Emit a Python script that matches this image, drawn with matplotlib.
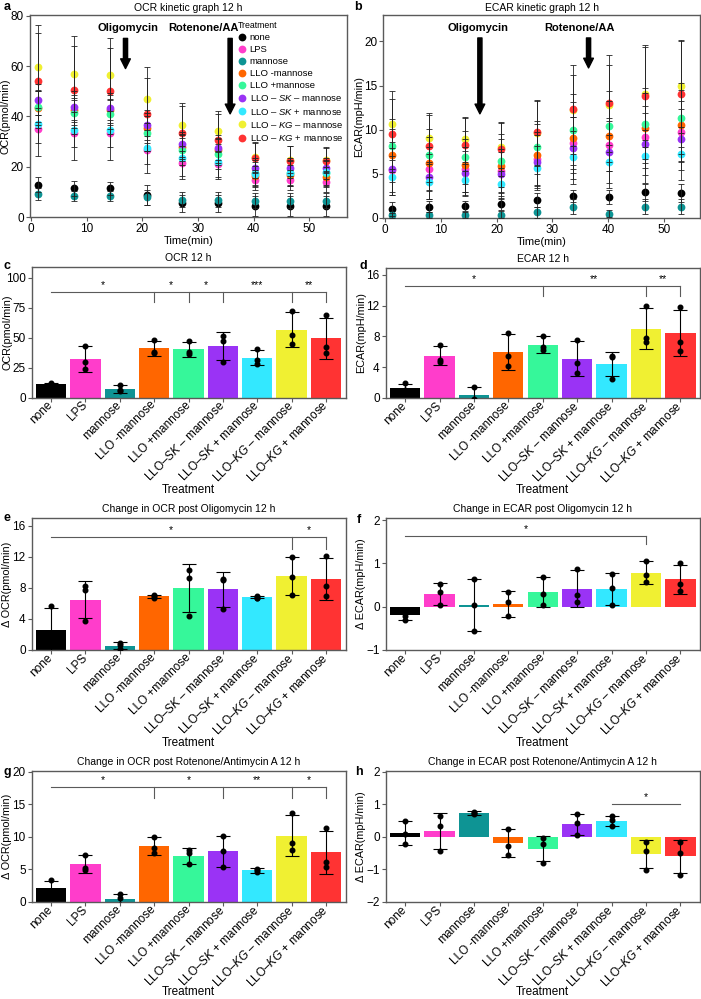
"""
Seahorse OCR / ECAR panels (a-h), 12 h treatment.
"""

import numpy as np
import matplotlib
import matplotlib.pyplot as plt
from matplotlib.lines import Line2D
from matplotlib.transforms import ScaledTranslation

plt.rcParams["font.family"] = ["Liberation Sans", "DejaVu Sans"]
plt.rcParams["mathtext.fontset"] = "custom"
plt.rcParams["mathtext.rm"] = "Liberation Sans"
plt.rcParams["mathtext.it"] = "Liberation Sans:italic"

# -- Data ----------------------------------------------------------------------
LEGEND_LABELS = ["none", "LPS", "mannose", "LLO -mannose", "LLO +mannose",
                 r"LLO – $\mathit{SK}$ – mannose", r"LLO – $\mathit{SK}$ + mannose",
                 r"LLO – $\mathit{KG}$ – mannose", r"LLO – $\mathit{KG}$ + mannose"]
TICK_LABELS = ["none", "LPS", "mannose", "LLO -mannose", "LLO +mannose",
               r"LLO–$\mathit{SK}$ – mannose", r"LLO–$\mathit{SK}$ + mannose",
               r"LLO–$\mathit{KG}$ – mannose", r"LLO–$\mathit{KG}$ + mannose"]
COLORS = ["#000000", "#FF3DCB", "#0E9494", "#FF6600", "#36F79A",
          "#9A33F5", "#33E8FF", "#F0F032", "#FF3333"]

TIME = [1.3, 7.8, 14.3, 20.8, 27.2, 33.7, 40.2, 46.6, 53.1]

# rows follow the treatment order above
OCR_KIN = [
    [12.8, 11.4, 11.4, 8.8, 5.4, 5.4, 4.5, 4.3, 4.4],
    [34.9, 33.2, 33.2, 26.6, 21.3, 20.9, 14.7, 14.7, 14.1],
    [9.1, 8.2, 8.2, 7.9, 6.8, 6.8, 6.5, 6.5, 6.5],
    [43.4, 42.4, 42.4, 35.5, 27.9, 26.5, 16.3, 16.7, 16.0],
    [43.9, 41.3, 41.0, 33.2, 26.6, 25.0, 17.6, 17.4, 17.4],
    [46.7, 43.9, 43.4, 36.5, 28.9, 27.6, 19.6, 19.6, 19.3],
    [37.1, 34.5, 34.7, 27.5, 23.3, 22.0, 17.0, 17.5, 17.8],
    [59.7, 56.8, 56.6, 47.0, 36.7, 34.1, 23.8, 22.8, 22.8],
    [54.2, 50.5, 50.0, 40.8, 33.2, 30.8, 23.3, 22.4, 22.4],
]
OCR_KIN_SD = [
    [3, 3, 2.5, 4, 3.5, 3.5, 4, 4, 4],
    [5.5, 5.5, 5.5, 5.5, 5, 5, 4, 4, 4],
    [2.5, 2, 2, 3, 3, 3, 3, 3, 3],
    [7, 6, 6, 6, 5, 5, 4, 4, 4],
    [6, 6, 6, 7, 6, 6, 5, 5, 5],
    [6, 6, 6, 6, 5, 5, 4, 4, 4],
    [13, 12, 12, 10, 8, 7, 5, 5, 5],
    [16.5, 15, 14.5, 12.5, 8.5, 8, 6, 5.5, 5],
    [19, 17.5, 17, 14.5, 11, 10, 6, 6, 5],
]
ECAR_KIN = [
    [1.0, 1.3, 1.35, 1.6, 2.0, 2.5, 2.4, 2.9, 2.8],
    [5.4, 5.6, 5.5, 5.3, 6.7, 8.5, 8.3, 9.2, 9.8],
    [0.3, 0.35, 0.35, 0.35, 0.65, 1.3, 0.5, 1.3, 1.3],
    [7.1, 6.2, 6.0, 5.9, 7.1, 9.1, 9.3, 10.2, 10.5],
    [8.2, 7.1, 6.9, 6.5, 8.0, 10.0, 10.4, 10.7, 11.3],
    [5.6, 4.7, 5.1, 5.0, 6.4, 7.9, 7.5, 8.4, 8.9],
    [4.6, 4.1, 4.3, 3.9, 5.7, 6.9, 6.4, 7.0, 7.3],
    [10.7, 9.1, 8.9, 8.1, 9.6, 12.2, 12.8, 14.1, 14.9],
    [9.5, 8.2, 8.3, 7.8, 9.7, 12.3, 13.0, 13.8, 14.1],
]
ECAR_KIN_SD = [
    [0.8, 0.6, 0.6, 0.7, 0.8, 0.7, 0.8, 1.0, 1.0],
    [2.5, 2.5, 2.5, 2.5, 3, 3, 3, 3.5, 3.5],
    [0.3, 0.3, 0.3, 0.4, 0.6, 0.8, 0.4, 0.8, 0.8],
    [3, 3, 3, 3, 3.5, 4, 4, 4, 4],
    [3, 3, 3, 3, 3, 4, 4, 4, 4],
    [3, 2.5, 2.5, 2.5, 3, 3.5, 3.5, 3.5, 3.5],
    [2, 2, 1.8, 1.8, 2.5, 3, 3, 3, 3],
    [3.7, 2.8, 2.5, 2.8, 3.7, 4, 4.5, 5.3, 5.3],
    [4, 3.5, 3, 3, 3.7, 5, 5.5, 5.8, 6],
]

# bar panels: mean, sd, three replicate dots
OCR_MEAN = [11.0, 32.2, 7.3, 41.0, 40.4, 42.8, 33.2, 56.5, 49.5]
OCR_SD = [1.5, 10.5, 3.2, 6.5, 6.2, 11.6, 6.4, 14.7, 17.2]
OCR_DOTS = [[12.5, 10.5, 10.0], [43, 29.5, 24], [10.4, 5.6, 6.0], [48.2, 37.2, 37.6],
            [46.8, 38.4, 36.0], [51.5, 47.2, 29.6], [40.2, 31.6, 27.8], [72.5, 52, 45],
            [69, 42, 37.5]]

ECAR_MEAN = [1.25, 5.5, 0.35, 6.0, 6.95, 5.1, 4.4, 9.0, 8.4]
ECAR_SD = [0.6, 1.25, 1.05, 2.3, 1.05, 2.25, 1.6, 2.65, 3.0]
ECAR_DOTS = [[1.9, 1.0, 0.85], [6.9, 5.0, 4.7], [1.45, -0.1, -0.3], [8.5, 5.5, 4.1],
             [8.0, 6.6, 6.3], [7.5, 4.5, 3.3], [5.4, 5.3, 2.5], [11.9, 7.8, 7.3],
             [11.8, 7.3, 6.1]]

DOCR_OLI_MEAN = [2.6, 6.5, 0.55, 6.9, 8.0, 7.8, 6.8, 9.5, 9.1]
DOCR_OLI_SD = [2.8, 2.4, 0.45, 0.2, 3.1, 2.3, 0.15, 2.45, 2.7]
DOCR_OLI_DOTS = [[5.7, 1.2, 0.9], [8.2, 7.7, 3.7], [0.86, 0.65, 0.15], [7.1, 6.9, 6.75],
                 [10.3, 9.25, 4.4], [9.2, 9.0, 5.3], [6.9, 6.75, 6.7], [12.0, 9.45, 7.1],
                 [12.1, 8.25, 6.9]]

DECAR_OLI_MEAN = [-0.2, 0.3, 0.05, 0.07, 0.34, 0.42, 0.41, 0.79, 0.63]
DECAR_OLI_SD = [0.1, 0.25, 0.6, 0.3, 0.35, 0.43, 0.36, 0.27, 0.34]
DECAR_OLI_DOTS = [[-0.1, -0.22, -0.3], [0.53, 0.34, 0.03], [0.65, 0.05, -0.55],
                  [0.34, 0.1, -0.22], [0.69, 0.3, 0.03], [0.88, 0.28, 0.1],
                  [0.76, 0.44, 0.05], [1.06, 0.73, 0.56], [1.0, 0.52, 0.36]]

DOCR_ROT_MEAN = [2.15, 5.8, 0.5, 8.6, 7.1, 7.75, 4.85, 10.2, 7.6]
DOCR_ROT_SD = [1.1, 1.4, 0.75, 1.4, 1.2, 2.35, 0.35, 3.1, 3.3]
DOCR_ROT_DOTS = [[3.4, 1.6, 1.5], [7.24, 5.25, 4.95], [1.28, 0.6, -0.4], [10.05, 8.3, 7.55],
                 [8.0, 7.5, 5.9], [10.1, 7.8, 5.36], [5.0, 4.85, 4.6], [13.6, 9.0, 8.0],
                 [11.4, 6.1, 5.36]]

DECAR_ROT_MEAN = [0.12, 0.18, 0.73, -0.19, -0.36, 0.39, 0.49, -0.53, -0.6]
DECAR_ROT_SD = [0.38, 0.56, 0.05, 0.42, 0.39, 0.32, 0.16, 0.44, 0.5]
DECAR_ROT_DOTS = [[0.5, 0.08, -0.21], [0.64, 0.32, -0.42], [0.76, 0.73, 0.71],
                  [0.25, -0.27, -0.55], [-0.05, -0.23, -0.8], [0.69, 0.43, 0.05],
                  [0.64, 0.51, 0.33], [-0.16, -0.42, -1.01], [-0.16, -0.49, -1.16]]

# significance brackets: (line level, tick bottom, anchor groups, ticked groups, stars)
SIG_C = (88, 79.4, [0, 3, 4, 5, 7, 8], [3, 4, 5, 7, 8], ["*", "*", "*", "***", "**"])
SIG_D = (14.6, 13.2, [0, 4, 7, 8], [4, 7, 8], ["*", "**", "**"])
SIG_E = (14.5, 13.0, [0, 7, 8], [7, 8], ["*", "*"])
SIG_F = (1.63, 1.44, [0, 7], [7], ["*"])
SIG_G = (17.6, 16.0, [0, 3, 5, 7, 8], [3, 5, 7, 8], ["*", "*", "**", "*"])
SIG_H = (1.0, 1.0, [6, 8], [], ["*"])

# -- Figure ----------------------------------------------------------------------
W, H = 701, 999
fig = plt.figure(figsize=(W / 100, H / 100), dpi=100)
FRAME = "#5a5a5a"


def add_ax(x0, x1, top, bottom):
    return fig.add_axes([x0 / W, 1 - bottom / H, (x1 - x0) / W, (bottom - top) / H])


def style(ax, ylabel):
    for s in ax.spines.values():
        s.set_color(FRAME)
        s.set_linewidth(1.0)
    ax.tick_params(direction="out", length=3, width=0.8, color=FRAME,
                   labelsize=8.5, pad=1.2)
    ax.set_ylabel(ylabel, fontsize=7.8)
    ax.yaxis.set_label_coords(-0.061, 0.5)


def kinetic(ax, means, sds):
    for i in range(9):
        ax.plot(TIME, means[i], "o", color=COLORS[i], ms=5.6, mec="none", zorder=2)
    for i in range(9):
        ax.errorbar(TIME, means[i], yerr=sds[i], fmt="none", ecolor="#222222",
                    elinewidth=0.6, capsize=2, capthick=0.6, zorder=3)
    ax.set_xticks([0, 10, 20, 30, 40, 50])
    ax.set_xlabel("Time(min)", fontsize=8, labelpad=1)


def arrow(ax, x, y0, y1):
    ax.annotate("", xy=(x, y1), xytext=(x, y0),
                arrowprops=dict(arrowstyle="simple,head_length=0.7,head_width=0.7,tail_width=0.3",
                                fc="black", ec="black", shrinkA=0, shrinkB=0))


def bars(ax, means, sds, dots, sig, title, label_y):
    x = np.arange(9)
    ax.bar(x, means, width=0.88, color=COLORS, zorder=1)
    ax.errorbar(x, means, yerr=sds, fmt="none", ecolor="black", elinewidth=0.8,
                capsize=5, capthick=0.8, zorder=3)
    for i in range(9):
        ax.plot([i] * 3, dots[i], "o", color="black", ms=3.3, zorder=4)
    ax.set_xlim(-0.57, 8.57)
    ax.set_xticks(x)
    ax.set_xticklabels(TICK_LABELS, rotation=45, ha="right", va="center",
                       rotation_mode="anchor", fontsize=7.4)
    shift = ScaledTranslation(8 / 100, 0, fig.dpi_scale_trans)
    for lbl in ax.get_xticklabels():
        lbl.set_transform(lbl.get_transform() + shift)
    ax.set_xlabel("Treatment", fontsize=8.5)
    ax.xaxis.set_label_coords(0.5, label_y)
    ax.set_title(title, fontsize=7.5, pad=4)
    level, tick_bot, anchors, ticked, stars = sig
    ax.plot([anchors[0], anchors[-1]], [level, level], color=FRAME, lw=0.8)
    for g in ticked:
        ax.plot([g, g], [level, tick_bot], color=FRAME, lw=0.8)
    for k, s in enumerate(stars):
        ax.annotate(s, ((anchors[k] + anchors[k + 1]) / 2, level), xytext=(0, 1.5),
                    textcoords="offset points", ha="center", va="bottom", fontsize=7.5)


# a
ax = add_ax(29.5, 347, 15, 217)
kinetic(ax, OCR_KIN, OCR_KIN_SD)
style(ax, "OCR(pmol/min)")
ax.set_xlim(-0.25, 56.8)
ax.set_ylim(0, 80.3)
ax.set_yticks([0, 20, 40, 60, 80])
ax.set_title("OCR kinetic graph 12 h", fontsize=7.5, pad=3)
ax.text(17.5, 75, "Oligomycin", fontsize=8, fontweight="bold", ha="center", va="center")
ax.text(31.0, 75, "Rotenone/AA", fontsize=8, fontweight="bold", ha="center", va="center")
arrow(ax, 17.0, 71, 59)
arrow(ax, 35.8, 71, 41)
handles = [Line2D([], [], marker="o", ls="none", color=c, mec="none", ms=5.6) for c in COLORS]
leg = ax.legend(handles, LEGEND_LABELS, title="Treatment", loc="upper right",
                bbox_to_anchor=(1.0, 0.99), frameon=False, fontsize=6.8,
                title_fontsize=6.3, handletextpad=0.25, labelspacing=0.33,
                borderaxespad=0.2, handlelength=1.0, borderpad=0.2)
leg._legend_box.align = "left"

# b
ax = add_ax(383.5, 700, 15, 218)
kinetic(ax, ECAR_KIN, ECAR_KIN_SD)
style(ax, "ECAR(mpH/min)")
ax.set_xlim(-0.3, 56.5)
ax.set_ylim(0, 23)
ax.set_yticks([0, 5, 10, 15, 20])
ax.set_title("ECAR kinetic graph 12 h", fontsize=7.5, pad=3)
ax.text(16.6, 21.5, "Oligomycin", fontsize=8, fontweight="bold", ha="center", va="center")
ax.text(34.8, 21.5, "Rotenone/AA", fontsize=8, fontweight="bold", ha="center", va="center")
arrow(ax, 17.0, 20.4, 11.8)
arrow(ax, 36.5, 20.4, 17.0)

# c
ax = add_ax(31.5, 345.5, 267, 397.5)
bars(ax, OCR_MEAN, OCR_SD, OCR_DOTS, SIG_C, "OCR 12 h", -0.66)
style(ax, "OCR(pmol/min)")
ax.set_ylim(0, 109)
ax.set_yticks([0, 25, 50, 75, 100])

# d
ax = add_ax(385.5, 700, 268, 398)
bars(ax, ECAR_MEAN, ECAR_SD, ECAR_DOTS, SIG_D, "ECAR 12 h", -0.66)
style(ax, "ECAR(mpH/min)")
ax.set_ylim(0, 16.9)
ax.set_yticks([0, 4, 8, 12, 16])

# e
ax = add_ax(31.5, 345.5, 518, 650)
bars(ax, DOCR_OLI_MEAN, DOCR_OLI_SD, DOCR_OLI_DOTS, SIG_E,
     "Change in OCR post Oligomycin 12 h", -0.66)
style(ax, "Δ OCR(pmol/min)")
ax.set_ylim(0, 17)
ax.set_yticks([0, 4, 8, 12, 16])

# f
ax = add_ax(385.5, 700, 518, 650)
bars(ax, DECAR_OLI_MEAN, DECAR_OLI_SD, DECAR_OLI_DOTS, SIG_F,
     "Change in ECAR post Oligomycin 12 h", -0.66)
style(ax, "Δ ECAR(mpH/min)")
ax.set_ylim(-1, 2.05)
ax.set_yticks([-1, 0, 1, 2])

# g
ax = add_ax(31.5, 345.5, 771, 902)
bars(ax, DOCR_ROT_MEAN, DOCR_ROT_SD, DOCR_ROT_DOTS, SIG_G,
     "Change in OCR post Rotenone/Antimycin A 12 h", -0.64)
style(ax, "Δ OCR(pmol/min)")
ax.set_ylim(0, 20.1)
ax.set_yticks([0, 5, 10, 15, 20])

# h
ax = add_ax(385.5, 700, 771, 902)
bars(ax, DECAR_ROT_MEAN, DECAR_ROT_SD, DECAR_ROT_DOTS, SIG_H,
     "Change in ECAR post Rotenone/Antimycin A 12 h", -0.64)
style(ax, "Δ ECAR(mpH/min)")
ax.set_ylim(-2, 2.02)
ax.set_yticks([-2, -1, 0, 1, 2])

# panel letters
for lab, px, py in [("a", 4, 7), ("b", 354, 7), ("c", 3, 266), ("d", 359, 266),
                    ("e", 4, 518), ("f", 357, 520), ("g", 4, 772), ("h", 355, 772)]:
    fig.text(px / W, 1 - py / H, lab, fontsize=9, fontweight="bold", ha="left", va="center")

fig.savefig("out.png", dpi=100, facecolor="white")
plt.close(fig)
